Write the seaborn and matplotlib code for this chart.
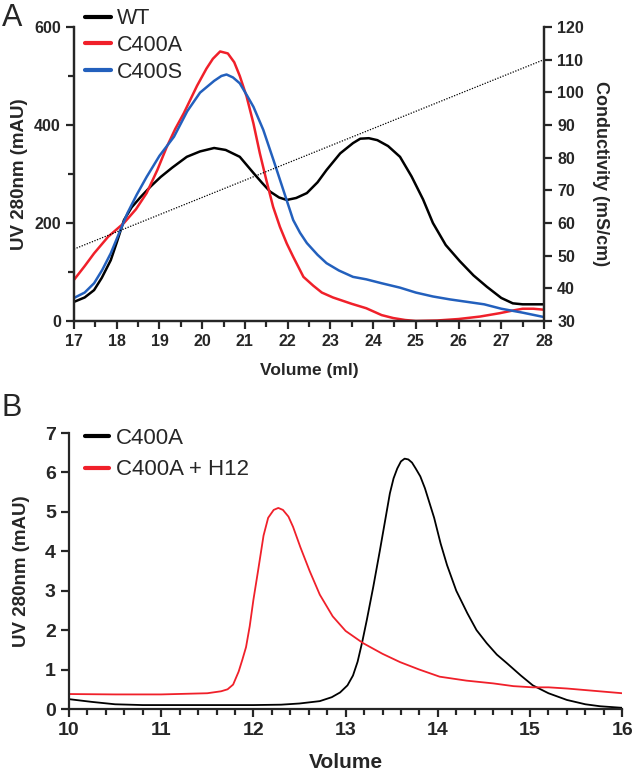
import numpy as np
import pandas as pd
import matplotlib
matplotlib.use("Agg")
import matplotlib.pyplot as plt
from matplotlib.ticker import MultipleLocator
import seaborn as sns

# ---- panel A data ----
wt_vol = [17, 17.25, 17.47, 17.65, 17.86, 18.0, 18.17, 18.35, 18.56, 18.8, 19.03, 19.3, 19.64,
          19.95, 20.28, 20.55, 20.88, 21.2, 21.4, 21.59, 21.8, 21.98, 22.2, 22.45, 22.7, 22.91,
          23.23, 23.53, 23.7, 23.9, 24.1, 24.35, 24.63, 24.9, 25.17, 25.4, 25.7, 26.03, 26.35,
          26.66, 27, 27.27, 27.5, 28]
wt_uv = [39, 48, 63, 88, 124, 160, 206, 232, 253, 275, 294, 313, 335,
         346, 353, 349, 335, 302, 282, 264, 252, 247, 251, 261, 283, 308,
         342, 363, 372, 373, 369, 357, 335, 295, 248, 200, 155, 122, 93,
         70, 47, 36, 34, 34]

c400a_vol = [17, 17.25, 17.47, 17.8, 18.17, 18.45, 18.7, 18.95, 19.17, 19.37, 19.57, 19.88, 20.1,
             20.25, 20.42, 20.6, 20.75, 20.88, 21.04, 21.2, 21.35, 21.5, 21.66, 21.82, 21.98,
             22.13, 22.37, 22.6, 22.8, 23.06, 23.5, 23.84, 24.2, 24.47, 24.75, 25, 25.5, 26,
             26.5, 26.97, 27.25, 27.5, 27.75, 28]
c400a_uv = [84, 112, 138, 172, 200, 228, 261, 308, 355, 392, 424, 480, 515,
            535, 550, 546, 528, 500, 458, 403, 342, 288, 233, 192, 158,
            131, 90, 72, 58, 48, 35, 26, 12, 6, 2, 0, 1, 4,
            9, 16, 21, 25, 25, 23]

c400s_vol = [17, 17.25, 17.47, 17.66, 17.86, 18.05, 18.25, 18.47, 18.7, 19.0, 19.34, 19.65, 19.95,
             20.28, 20.45, 20.57, 20.72, 20.88, 21.05, 21.2, 21.43, 21.67, 21.9, 22.13, 22.29,
             22.45, 22.7, 22.91, 23.2, 23.53, 23.84, 24.2, 24.63, 25, 25.4, 25.8, 26.2, 26.6,
             27, 27.5, 28]
c400s_uv = [47, 58, 77, 104, 138, 178, 220, 258, 294, 337, 376, 428, 466,
            490, 500, 503, 497, 485, 460, 437, 390, 328, 267, 206, 180,
            159, 135, 118, 103, 90, 85, 77, 68, 58, 50, 44, 39, 34,
            25, 17, 8]

cond_vol = [17, 28]
cond = [52, 110]

# ---- panel B data ----
b_c400a_vol = [10, 10.25, 10.5, 10.8, 11, 11.5, 12, 12.3, 12.5, 12.72, 12.85, 12.94, 13.02,
               13.08, 13.13, 13.18, 13.23, 13.3, 13.37, 13.43, 13.48, 13.52, 13.56, 13.6, 13.64,
               13.68, 13.72, 13.76, 13.81, 13.86, 13.9, 13.96, 14.03, 14.1, 14.2, 14.32, 14.42,
               14.53, 14.64, 14.75, 14.9, 15.03, 15.2, 15.4, 15.6, 15.76, 16]
b_c400a_uv = [0.25, 0.18, 0.12, 0.1, 0.1, 0.1, 0.1, 0.11, 0.14, 0.2, 0.3, 0.42, 0.6,
              0.85, 1.2, 1.7, 2.26, 3.1, 4.0, 4.8, 5.47, 5.85, 6.1, 6.28, 6.35,
              6.33, 6.25, 6.1, 5.9, 5.6, 5.3, 4.85, 4.2, 3.65, 3.0, 2.43, 2.0,
              1.67, 1.38, 1.16, 0.85, 0.6, 0.4, 0.23, 0.12, 0.07, 0.03]

b_h12_vol = [10, 10.5, 11, 11.5, 11.65, 11.72, 11.78, 11.84, 11.88, 11.92, 11.96, 12.0, 12.05,
             12.11, 12.16, 12.22, 12.27, 12.32, 12.38, 12.43, 12.51, 12.61, 12.72, 12.86, 13.0,
             13.19, 13.4, 13.59, 13.8, 14.02, 14.31, 14.6, 14.82, 15.03, 15.2, 15.4, 15.7, 16]
b_h12_uv = [0.38, 0.37, 0.37, 0.4, 0.45, 0.5, 0.62, 0.95, 1.25, 1.57, 2.1, 2.77, 3.5,
            4.4, 4.85, 5.05, 5.1, 5.05, 4.88, 4.62, 4.1, 3.5, 2.9, 2.35, 1.98,
            1.67, 1.4, 1.19, 1.0, 0.82, 0.72, 0.65, 0.58, 0.55, 0.55, 0.52, 0.46, 0.4]

RED = "#f0202a"
BLUE = "#2360bd"

sns.set_style("ticks")
plt.rcParams["font.family"] = ["Liberation Sans", "DejaVu Sans"]
plt.rcParams["axes.linewidth"] = 1.6

fig = plt.figure(figsize=(6.33, 7.77), dpi=100)

# ---------------- panel A ----------------
ax1 = fig.add_axes([0.1169, 0.5869, 0.7425, 0.3784])
axr = ax1.twinx()

sns.lineplot(x=cond_vol, y=cond, ax=axr, color="black", lw=0.9, linestyle=(0, (1, 1.2)))
sns.lineplot(x=wt_vol, y=wt_uv, ax=ax1, color="black", lw=1.8, label="WT")
sns.lineplot(x=c400a_vol, y=c400a_uv, ax=ax1, color=RED, lw=1.8, label="C400A")
sns.lineplot(x=c400s_vol, y=c400s_uv, ax=ax1, color=BLUE, lw=1.8, label="C400S")

ax1.set_xlim(17, 28)
ax1.set_ylim(0, 600)
axr.set_ylim(30, 120)
ax1.xaxis.set_major_locator(MultipleLocator(1))
ax1.xaxis.set_minor_locator(MultipleLocator(0.5))
ax1.yaxis.set_major_locator(MultipleLocator(200))
ax1.yaxis.set_minor_locator(MultipleLocator(100))
axr.yaxis.set_major_locator(MultipleLocator(10))

for a in (ax1, axr):
    a.spines["top"].set_visible(False)
    a.tick_params(which="major", length=6, width=1.6, labelsize=11.5)
    a.tick_params(which="minor", length=4, width=1.6)
    for t in a.get_xticklabels() + a.get_yticklabels():
        t.set_fontweight("bold")
axr.spines["right"].set_linewidth(1.6)

ax1.set_xlabel("Volume (ml)", fontsize=12.5, fontweight="bold", labelpad=10)
ax1.set_ylabel("UV 280nm (mAU)", fontsize=13.5, fontweight="bold")
ax1.yaxis.set_label_coords(-0.098, 0.5)
axr.set_ylabel("Conductivity (mS/cm)", fontsize=13, fontweight="bold", rotation=270, labelpad=18)

leg = ax1.legend(loc="upper left", bbox_to_anchor=(0.134, 0.9895), bbox_transform=fig.transFigure,
                 frameon=False, fontsize=15.5, handlelength=1.2, handletextpad=0.3,
                 labelspacing=0.27, borderpad=0, borderaxespad=0)
for h in leg.get_lines():
    h.set_linewidth(3)

fig.text(0.003, 0.967, "A", fontsize=22)

# ---------------- panel B ----------------
ax2 = fig.add_axes([0.109, 0.0875, 0.874, 0.3552])
sns.lineplot(x=b_c400a_vol, y=b_c400a_uv, ax=ax2, color="black", lw=1.3, label="C400A")
sns.lineplot(x=b_h12_vol, y=b_h12_uv, ax=ax2, color=RED, lw=1.3, label="C400A + H12")

ax2.set_xlim(10, 16)
ax2.set_ylim(0, 7)
ax2.xaxis.set_major_locator(MultipleLocator(1))
ax2.xaxis.set_minor_locator(MultipleLocator(0.2))
ax2.yaxis.set_major_locator(MultipleLocator(1))
sns.despine(ax=ax2)
ax2.tick_params(which="major", length=6, width=1.6, labelsize=14)
ax2.tick_params(which="minor", length=4, width=1.6)
for t in ax2.get_xticklabels() + ax2.get_yticklabels():
    t.set_fontweight("bold")
ax2.set_xlabel("Volume", fontsize=15, fontweight="bold", labelpad=10)
ax2.set_ylabel("UV 280nm (mAU)", fontsize=13.5, fontweight="bold")
ax2.yaxis.set_label_coords(-0.07, 0.5)

leg2 = ax2.legend(loc="upper left", bbox_to_anchor=(0.134, 0.4495), bbox_transform=fig.transFigure,
                  frameon=False, fontsize=16, handlelength=1.1, handletextpad=0.3,
                  labelspacing=0.48, borderpad=0, borderaxespad=0)
for h in leg2.get_lines():
    h.set_linewidth(3)

fig.text(0.003, 0.465, "B", fontsize=22)

fig.savefig("out.png", dpi=100)
